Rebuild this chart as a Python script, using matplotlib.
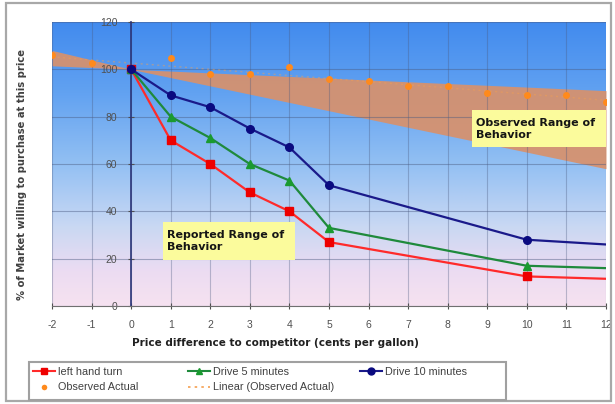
import numpy as np
import matplotlib
matplotlib.use("Agg")
import matplotlib.pyplot as plt
from matplotlib.colors import LinearSegmentedColormap
from matplotlib.lines import Line2D
from matplotlib.patches import Rectangle

plt.rcParams['font.family'] = ['Liberation Sans', 'DejaVu Sans']
plt.rcParams['axes.unicode_minus'] = False

# ---- data ----
survey_x = [0, 1, 2, 3, 4, 5, 10, 12]
left_hand_turn = [100, 70, 60, 48, 40, 27, 12.5, 11.5]
drive_5_minutes = [100, 80, 71, 60, 53, 33, 17, 16]
drive_10_minutes = [100, 89, 84, 75, 67, 51, 28, 26]

observed_x = [-2, -1, 0, 1, 2, 3, 4, 5, 6, 7, 8, 9, 10, 11, 12]
observed_actual = [106, 102.5, 100, 105, 98, 98, 101, 96, 95, 93, 93, 90, 89, 89, 86]

band_x = [-2, 0, 12]
band_upper = [108, 100, 91]
band_lower = [101.5, 100, 58]

x_ticks = list(range(-2, 13))
y_ticks = [0, 20, 40, 60, 80, 100, 120]

W, H = 615, 404
fig = plt.figure(figsize=(W / 100, H / 100), dpi=100)
fig.patch.set_facecolor('white')

# outer frame
fig.add_artist(Rectangle((6 / W, 3 / H), (611 - 6) / W, (401 - 3) / H,
                         transform=fig.transFigure, fill=False,
                         edgecolor='#a8a8a8', linewidth=1.6))

L, R, T, B = 52, 606, 22, 306
ax = fig.add_axes([L / W, 1 - B / H, (R - L) / W, (B - T) / H])
ax.set_xlim(-2, 12)
ax.set_ylim(0, 120)

# background gradient
cmap = LinearSegmentedColormap.from_list('bg', [
    (0.0, '#f6e2f0'), (0.12, '#ecdcf2'), (0.28, '#c9d8f3'),
    (0.5, '#93c0f3'), (0.75, '#62a2f1'), (1.0, '#428bee')])
grad = np.linspace(0, 1, 256).reshape(-1, 1)
ax.imshow(grad, extent=[-2, 12, 0, 120], origin='lower', aspect='auto',
          cmap=cmap, zorder=0)

# band
ax.fill_between(band_x, band_lower, band_upper, color='#d8916c', alpha=0.92,
                linewidth=0, zorder=1)

# grid
for xv in x_ticks:
    ax.axvline(xv, color='#4a5a80', alpha=0.35, linewidth=0.8, zorder=1.5)
for yv in y_ticks:
    ax.axhline(yv, color='#4a5a80', alpha=0.45, linewidth=0.8, zorder=1.5)

# linear trend of observed
coef = np.polyfit(observed_x, observed_actual, 1)
tx = np.array([-2, 12])
ax.plot(tx, np.polyval(coef, tx), linestyle=(0, (1.5, 2.5)), color='#f5a050',
        linewidth=1.0, alpha=0.45, zorder=2)

ax.plot(observed_x, observed_actual, 'o', color='#ff8a1c', markersize=5,
        markeredgewidth=0, zorder=3)

mk = list(range(7))
ax.plot(survey_x, left_hand_turn, color='#ff2a2a', linewidth=1.6, marker='s',
        markersize=5.5, markevery=mk, markerfacecolor='#ee0000',
        markeredgecolor='#ee0000', zorder=4)
ax.plot(survey_x, drive_5_minutes, color='#1f8a3c', linewidth=1.6, marker='^',
        markersize=6, markevery=mk, markerfacecolor='#1a9a30',
        markeredgecolor='#1a9a30', zorder=4)
ax.plot(survey_x, drive_10_minutes, color='#1a1a8a', linewidth=1.6, marker='o',
        markersize=5.5, markevery=mk, markerfacecolor='#0a0a80',
        markeredgecolor='#0a0a80', zorder=4)

# axes styling
ax.spines['left'].set_position(('data', 0))
ax.spines['left'].set_color('#2a3478')
ax.spines['left'].set_linewidth(1.2)
ax.spines['left'].set_zorder(2.5)
ax.spines['bottom'].set_color('#707070')
ax.spines['top'].set_visible(False)
ax.spines['right'].set_visible(False)
ax.set_xticks(x_ticks)
ax.set_yticks(y_ticks)
ax.tick_params(axis='both', direction='inout', length=4, labelsize=7.5,
               labelcolor='#505050', color='#505050')
ax.tick_params(axis='x', pad=8)
ax.tick_params(axis='y', pad=8)

fig.text(22 / W, 1 - 175 / H, '% of Market willing to purchase at this price',
         rotation=90, ha='center', va='center', fontsize=7.2,
         fontweight='bold', color='#404040', family=['DejaVu Sans'])
fig.text(275 / W, 1 - 343 / H,
         'Price difference to competitor (cents per gallon)',
         ha='center', va='center', fontsize=7.5, fontweight='bold',
         color='#202020', family=['DejaVu Sans'])

# annotation boxes
for (x0, y0, x1, y1, txt) in [
        (472, 110, 606, 147, 'Observed Range of\nBehavior'),
        (163, 222, 295, 260, 'Reported Range of\nBehavior')]:
    fig.add_artist(Rectangle((x0 / W, 1 - y1 / H), (x1 - x0) / W,
                             (y1 - y0) / H, transform=fig.transFigure,
                             facecolor='#fbfb9c', edgecolor='none', zorder=5))
    fig.text((x0 + 4) / W, 1 - ((y0 + y1) / 2) / H, txt, ha='left',
             va='center', fontsize=8, fontweight='bold', color='#151515',
             linespacing=1.25, zorder=6, family=['DejaVu Sans'])

# legend (frame + three columns)
fig.add_artist(Rectangle((29 / W, 1 - 400 / H), (506 - 29) / W,
                         (400 - 362) / H, transform=fig.transFigure,
                         facecolor='white', edgecolor='#a0a0a0',
                         linewidth=1.5, zorder=5))
columns = [
    (33, [Line2D([], [], color='#ff2a2a', marker='s', markersize=5,
                 markerfacecolor='#ee0000', markeredgecolor='#ee0000', lw=1.5),
          Line2D([], [], color='#ff8a1c', marker='o', markersize=4, lw=0,
                 markeredgewidth=0)],
     ['left hand turn', 'Observed Actual']),
    (188, [Line2D([], [], color='#1f8a3c', marker='^', markersize=5,
                  markerfacecolor='#1a9a30', markeredgecolor='#1a9a30',
                  lw=1.5),
           Line2D([], [], color='#f5a050', linestyle=(0, (1.5, 2.5)),
                  lw=1.2)],
     ['Drive 5 minutes', 'Linear (Observed Actual)']),
    (360, [Line2D([], [], color='#1a1a8a', marker='o', markersize=5,
                  markerfacecolor='#0a0a80', markeredgecolor='#0a0a80',
                  lw=1.5)],
     ['Drive 10 minutes']),
]
for x0, hs, ls in columns:
    lg = fig.legend(hs, ls, loc='upper left',
                    bbox_to_anchor=(x0 / W, 1 - 367 / H),
                    frameon=False, fontsize=7.8, handlelength=2.0,
                    handletextpad=0.35, borderpad=0, borderaxespad=0,
                    labelspacing=0.5)
    lg.set_zorder(6)
    for t in lg.get_texts():
        t.set_color('#404040')

fig.savefig('out.png', dpi=100, facecolor='white')
